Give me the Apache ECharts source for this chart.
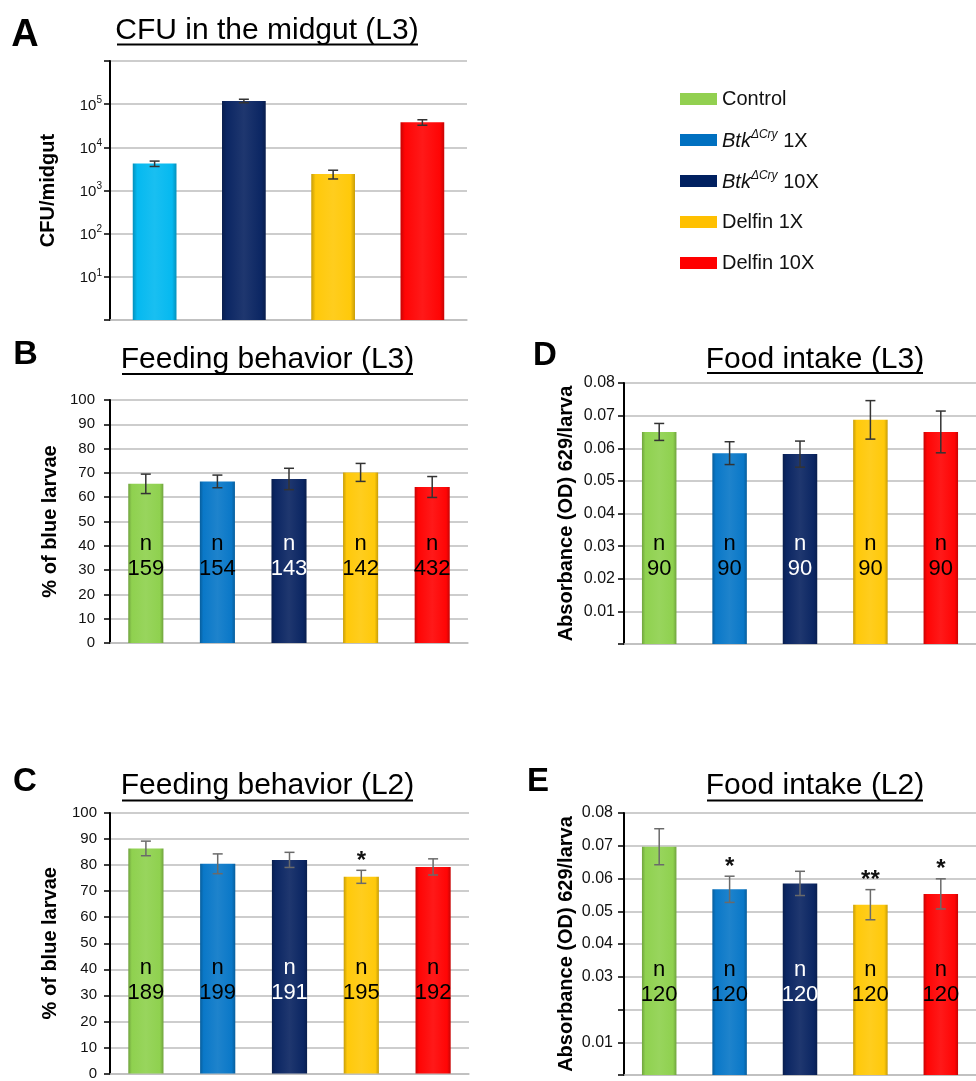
<!DOCTYPE html>
<html><head><meta charset="utf-8">
<script src="https://cdn.jsdelivr.net/npm/echarts@6/dist/echarts.min.js"></script>
<style>html,body{margin:0;padding:0;background:#fff}#c{width:976px;height:1081px}</style>
</head><body><div id="c"></div>
<script>
// ---------- data ----------
const groups = ['Control', 'Btk 1X', 'Btk 10X', 'Delfin 1X', 'Delfin 10X'];
const cfuGroups = ['Btk 1X', 'Btk 10X', 'Delfin 1X', 'Delfin 10X'];
const cfuValues = [4200, 119000, 2400, 38000];
const cfuErr = [600, 11000, 550, 5500];
const cfuTickExp = ['', '1', '2', '3', '4', '5', ''];

const feedL3Values = [65.5, 66.5, 67.5, 70.2, 64.2];
const feedL3Err = [4.0, 2.6, 4.4, 3.7, 4.3];
const feedL3N = ['159', '154', '143', '142', '432'];

const feedL2Values = [86.4, 80.5, 82.0, 75.5, 79.3];
const feedL2Err = [2.8, 3.8, 2.9, 2.5, 3.1];
const feedL2N = ['189', '199', '191', '195', '192'];
const feedL2Sig = ['', '', '', '*', ''];

const foodL3Values = [0.0650, 0.0585, 0.0582, 0.0687, 0.0650];
const foodL3Err = [0.0026, 0.0035, 0.0040, 0.0059, 0.0064];
const foodL3N = ['90', '90', '90', '90', '90'];

const foodL2Values = [0.0697, 0.0567, 0.0585, 0.0520, 0.0553];
const foodL2Err = [0.0055, 0.0040, 0.0037, 0.0046, 0.0046];
const foodL2N = ['120', '120', '120', '120', '120'];
const foodL2Sig = ['', '*', '', '**', '*'];

const pctTicks = ['0', '10', '20', '30', '40', '50', '60', '70', '80', '90', '100'];
const foodL3Ticks = ['', '0.01', '0.02', '0.03', '0.04', '0.05', '0.06', '0.07', '0.08'];
const foodL2Ticks = ['', '0.01', '', '0.03', '0.04', '0.05', '0.06', '0.07', '0.08'];

// ---------- styles ----------
const FONT = "'Liberation Sans', Arial, sans-serif";
const barColors = ['#8FD14F', '#0A78C8', '#0B2663', '#FFC90A', '#FF0505'];
const cfuColors = ['#05B9F0', '#0B2663', '#FFC90A', '#FF0505'];
const legendColors = ['#92D050', '#0070C0', '#002060', '#FFC000', '#FF0000'];
const labelColors = ['#000', '#000', '#fff', '#000', '#000'];

function shade(hex, f) {
  const n = parseInt(hex.slice(1), 16);
  let r = (n >> 16) & 255, g = (n >> 8) & 255, b = n & 255;
  const t = f < 0 ? 0 : 255, p = Math.abs(f);
  r = Math.round((t - r) * p + r); g = Math.round((t - g) * p + g); b = Math.round((t - b) * p + b);
  return 'rgb(' + r + ',' + g + ',' + b + ')';
}
function grad(c) {
  return { type: 'linear', x: 0, y: 0, x2: 1, y2: 0, colorStops: [
    { offset: 0, color: shade(c, -0.22) }, { offset: 0.1, color: c },
    { offset: 0.5, color: shade(c, 0.08) }, { offset: 0.9, color: c },
    { offset: 1, color: shade(c, -0.22) } ] };
}

const panels = [
  { key: 'A', cats: cfuGroups, vals: cfuValues, err: cfuErr, colors: cfuColors, log: true,
    grid: { left: 110, top: 61, width: 357, height: 259 }, name: 'CFU/midgut', nameGap: 52, errColor: '#333' },
  { key: 'B', cats: groups, vals: feedL3Values, err: feedL3Err, colors: barColors, n: feedL3N,
    ticks: pctTicks, step: 10, min: 0, max: 100, labelMargin: 15, labelSize: 15,
    grid: { left: 110, top: 400, width: 358, height: 243 }, name: '% of blue larvae', nameGap: 50, labDist: 62, errColor: '#333' },
  { key: 'D', cats: groups, vals: foodL3Values, err: foodL3Err, colors: barColors, n: foodL3N,
    ticks: foodL3Ticks, step: 0.01, min: 0, max: 0.08, labelMargin: 9, labelSize: 16,
    grid: { left: 624, top: 383, width: 360, height: 261 }, name: 'Absorbance (OD) 629/larva', nameGap: 48, labDist: 63, errColor: '#333' },
  { key: 'C', cats: groups, vals: feedL2Values, err: feedL2Err, colors: barColors, n: feedL2N, sig: feedL2Sig,
    ticks: pctTicks, step: 10, min: 0, max: 100, labelMargin: 13, labelSize: 15,
    grid: { left: 110, top: 813, width: 359, height: 261 }, name: '% of blue larvae', nameGap: 50, labDist: 68, errColor: '#6a6a6a' },
  { key: 'E', cats: groups, vals: foodL2Values, err: foodL2Err, colors: barColors, n: foodL2N, sig: foodL2Sig,
    ticks: foodL2Ticks, step: 0.01, min: 0, max: 0.08, labelMargin: 11, labelSize: 16,
    grid: { left: 624, top: 813, width: 360, height: 262 }, name: 'Absorbance (OD) 629/larva', nameGap: 48, labDist: 68, errColor: '#6a6a6a' }
];

const grids = [], xAxes = [], yAxes = [], series = [];
panels.forEach((p, k) => {
  grids.push(p.grid);
  xAxes.push({ type: 'category', gridIndex: k, data: p.cats,
    axisLine: { lineStyle: { color: '#BDBDBD', width: 1.5 } }, axisTick: { show: false }, axisLabel: { show: false } });
  const y = { gridIndex: k, name: p.name, nameLocation: 'middle', nameGap: p.nameGap, nameRotate: 90,
    nameTextStyle: { fontFamily: FONT, fontSize: 20, fontWeight: 'bold', color: '#000' },
    axisLine: { show: true, lineStyle: { color: '#000', width: 2 } },
    axisTick: { show: true, length: 6, lineStyle: { color: '#000', width: 1.5 } },
    splitLine: { show: true, lineStyle: { color: '#BDBDBD', width: 1.5 } } };
  if (p.log) {
    Object.assign(y, { type: 'log', logBase: 10, min: 1, max: 1000000, splitNumber: 6,
      axisLabel: { margin: 8, fontFamily: FONT, color: '#111',
        formatter: v => { const e = Math.round(Math.log10(v)); return cfuTickExp[e] ? '{b|10}{s|' + cfuTickExp[e] + '}' : ''; },
        rich: { b: { fontSize: 15, fontFamily: FONT, color: '#111', verticalAlign: 'bottom', lineHeight: 18 },
                s: { fontSize: 10, fontFamily: FONT, color: '#111', verticalAlign: 'top', lineHeight: 12 } } } });
  } else {
    Object.assign(y, { type: 'value', min: p.min, max: p.max, interval: p.step,
      axisLabel: { margin: p.labelMargin, fontSize: p.labelSize, fontFamily: FONT, color: '#111',
        formatter: v => p.ticks[Math.round(v / p.step)] } });
  }
  yAxes.push(y);

  series.push({ type: 'bar', name: 'panel' + p.key, xAxisIndex: k, yAxisIndex: k, barWidth: '49%',
    data: p.vals.map((v, i) => ({ value: v, itemStyle: { color: grad(p.colors[i]) },
      label: { color: p.n ? labelColors[i] : '#000' } })),
    label: p.n ? { show: true, position: 'insideBottom', distance: p.labDist,
      formatter: q => '{n|n}\n{v|' + p.n[q.dataIndex] + '}',
      rich: { n: { fontSize: 22, lineHeight: 25, fontFamily: FONT }, v: { fontSize: 22, lineHeight: 25, fontFamily: FONT } } } : { show: false },
    silent: true, z: 2 });

  series.push({ type: 'custom', name: 'err' + p.key, xAxisIndex: k, yAxisIndex: k, z: 5, silent: true,
    encode: { x: 0, y: [1, 2] },
    data: p.vals.map((v, i) => [i, v - p.err[i], v + p.err[i]]),
    renderItem: (params, api) => {
      const i = api.value(0);
      const lo = api.coord([i, api.value(1)]), hi = api.coord([i, api.value(2)]);
      const x = lo[0], cw = 5, st = { stroke: p.errColor, lineWidth: 1.5 };
      const ch = [
        { type: 'line', shape: { x1: x, y1: lo[1], x2: x, y2: hi[1] }, style: st },
        { type: 'line', shape: { x1: x - cw, y1: lo[1], x2: x + cw, y2: lo[1] }, style: st },
        { type: 'line', shape: { x1: x - cw, y1: hi[1], x2: x + cw, y2: hi[1] }, style: st }
      ];
      if (p.sig && p.sig[params.dataIndex]) {
        ch.push({ type: 'text', style: { text: p.sig[params.dataIndex], x: x, y: hi[1] + 3,
          align: 'center', verticalAlign: 'bottom', fontSize: 24, fontWeight: 'bold', fontFamily: FONT, fill: '#111' } });
      }
      return { type: 'group', children: ch };
    } });
});

// hidden grid for legend entries
const lg = panels.length;
grids.push({ left: -200, top: -200, width: 10, height: 10 });
xAxes.push({ gridIndex: lg, type: 'category', show: false, data: [''] });
yAxes.push({ gridIndex: lg, type: 'value', show: false });
groups.forEach((g, i) => series.push({ type: 'bar', name: g, xAxisIndex: lg, yAxisIndex: lg, data: [],
  itemStyle: { color: legendColors[i] } }));

const titles = [
  { t: 'CFU in the midgut (L3)', x: 267, y: 31, u: [117, 418, 44.5] },
  { t: 'Feeding behavior (L3)', x: 267.5, y: 360, u: [122, 413, 374] },
  { t: 'Food intake (L3)', x: 815, y: 360, u: [707, 923, 373] },
  { t: 'Feeding behavior (L2)', x: 267.5, y: 785.5, u: [122, 413, 800.5] },
  { t: 'Food intake (L2)', x: 815, y: 785.5, u: [707, 923, 800.5] }
];
const letters = [
  { t: 'A', x: 25, y: 36, s: 38 }, { t: 'B', x: 25.5, y: 355, s: 34 }, { t: 'D', x: 545, y: 356, s: 33 },
  { t: 'C', x: 25, y: 781.5, s: 33 }, { t: 'E', x: 538, y: 781.5, s: 33 }
];
const graphic = [];
titles.forEach(o => {
  graphic.push({ type: 'text', x: o.x, y: o.y, style: { text: o.t, fontSize: 30, fontFamily: FONT, fill: '#000',
    align: 'center', verticalAlign: 'middle' } });
  graphic.push({ type: 'line', shape: { x1: o.u[0], y1: o.u[2], x2: o.u[1], y2: o.u[2] }, style: { stroke: '#000', lineWidth: 2 } });
});
letters.forEach(o => graphic.push({ type: 'text', x: o.x, y: o.y, style: { text: o.t, fontSize: o.s, fontWeight: 'bold',
  fontFamily: FONT, fill: '#000', align: 'center', verticalAlign: 'middle' } }));

const chart = echarts.init(document.getElementById('c'), null, { renderer: 'canvas' });
chart.setOption({
  animation: false,
  backgroundColor: '#fff',
  grid: grids, xAxis: xAxes, yAxis: yAxes, series: series, graphic: graphic,
  legend: { data: groups, orient: 'vertical', left: 675, top: 83, itemWidth: 37, itemHeight: 12, itemGap: 19,
    icon: 'rect', selectedMode: false,
    formatter: name => {
      if (name.indexOf('Btk') === 0) return '{i|Btk}{s|\u0394Cry}{t|' + name.slice(3) + '}';
      return name;
    },
    textStyle: { fontSize: 20, lineHeight: 22, fontFamily: FONT, color: '#111',
      rich: { i: { fontSize: 20, fontStyle: 'italic', fontFamily: FONT, color: '#111', lineHeight: 22, verticalAlign: 'bottom' },
              s: { fontSize: 12, fontStyle: 'italic', fontFamily: FONT, color: '#111', lineHeight: 12, verticalAlign: 'top' },
              t: { fontSize: 20, fontFamily: FONT, color: '#111', lineHeight: 22, verticalAlign: 'bottom' } } }
  }
});
</script></body></html>
